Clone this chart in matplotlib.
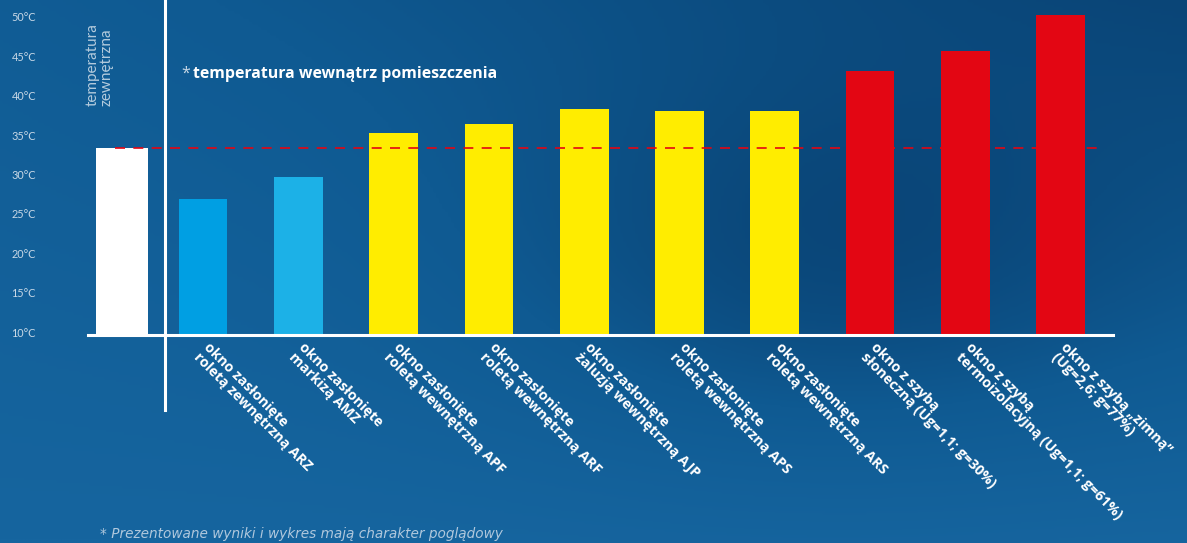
import numpy as np
import matplotlib.pyplot as plt
from matplotlib.colors import LinearSegmentedColormap

# data
labels = ['', 'okno zasłonięte\nroletą zewnętrzną ARZ', 'okno zasłonięte\nmarkizą AMZ',
          'okno zasłonięte\nroletą wewnętrzną APF', 'okno zasłonięte\nroletą wewnętrzną ARF',
          'okno zasłonięte\nżaluzją wewnętrzną AJP', 'okno zasłonięte\nroletą wewnętrzną APS',
          'okno zasłonięte\nroletą wewnętrzną ARS', 'okno z szybą\nsłoneczną (Ug=1,1; g=30%)',
          'okno z szybą\ntermoizolacyjną (Ug=1,1; g=61%)', 'okno z szybą „zimną”\n(Ug=2,6; g=77%)']
values = [33.4, 26.9, 29.7, 35.3, 36.4, 38.3, 38.0, 38.0, 43.1, 45.7, 50.2]
colors = ['#ffffff', '#009fe3', '#1cb1e7', '#ffed00', '#ffed00', '#ffed00', '#ffed00',
          '#ffed00', '#e30613', '#e30613', '#e30613']
yticks = [10, 15, 20, 25, 30, 35, 40, 45, 50]
outside_temp = values[0]

W, H = 1187, 543
fig = plt.figure(figsize=(W / 100, H / 100), dpi=100)

# background gradient
bg = fig.add_axes([0, 0, 1, 1])
yy, xx = np.mgrid[0:1:200j, 0:1:400j]
shade = 0.45 * (1 - yy) * xx + 0.4 * np.exp(-((xx - 0.7) ** 2 / 0.08 + (yy - 0.5) ** 2 / 0.12))
shade = shade - 0.3 * yy
cmap = LinearSegmentedColormap.from_list('bgc', ['#16659f', '#0f5a92', '#0a4577'])
bg.imshow(shade, cmap=cmap, aspect='auto', extent=[0, 1, 0, 1], origin='upper')
bg.axis('off')

ax = fig.add_axes([88 / W, 1 - 335 / H, 1025 / W, 330 / H])
ax.patch.set_alpha(0)
x = np.arange(len(values)).astype(float)
x[0] += 0.15  # reference bar sits a bit closer
widths = [0.55] + [0.51] * (len(values) - 1)
ax.bar(x, np.array(values) - 9.62, bottom=9.62, width=widths, color=colors, zorder=2)
ax.set_xlim(-0.207, 10.549)
ax.set_ylim(9.62, 51.5)

ax.hlines(outside_temp, 0.08, 10.38, colors='#e30613', linestyles=(0, (6, 5)), lw=1.2, zorder=3)

for s in ['top', 'right', 'left']:
    ax.spines[s].set_visible(False)
ax.spines['bottom'].set_color('white')
ax.spines['bottom'].set_linewidth(2.2)
ax.spines['bottom'].set_zorder(4)
ax.set_xticks([])
ax.set_yticks(yticks)
ax.set_yticklabels([f'{t}°C' for t in yticks], fontsize=7.8, color='#c8d8e6', family='Lato')
ax.tick_params(axis='y', length=0, pad=55)
for t in ax.get_yticklabels():
    t.set_horizontalalignment('left')

# category labels
for xi, lab in zip(x[1:], labels[1:]):
    ax.text(xi + 0.08, 9.0, lab, rotation=-45, rotation_mode='anchor', ha='left', va='top',
            color='white', fontsize=10.3, fontweight='bold', family='Open Sans',
            linespacing=1.0, clip_on=False)

# separator line
fig.add_artist(plt.Line2D([165 / W, 165 / W], [1, 1 - 410 / H], color='white', lw=2.2))

fig.text(86 / W, 1 - 106 / H, 'temperatura\nzewnętrzna', rotation=90, ha='left', va='bottom',
         fontsize=11, color='#b4cbdd', family='Lato', linespacing=0.95)

fig.text(181 / W, 1 - 74 / H, '*', fontsize=11.5, color='#c8d8e6', family='Open Sans', va='center')
fig.text(193 / W, 1 - 74 / H, 'temperatura wewnątrz pomieszczenia', fontsize=11.4,
         color='white', fontweight='bold', family='Open Sans', va='center')

fig.text(100 / W, 1 - 534 / H, '* Prezentowane wyniki i wykres mają charakter poglądowy',
         fontsize=9.8, style='italic', color='#b0c8dd', family='Liberation Sans Narrow',
         va='center')

fig.savefig('out.png', dpi=100)
